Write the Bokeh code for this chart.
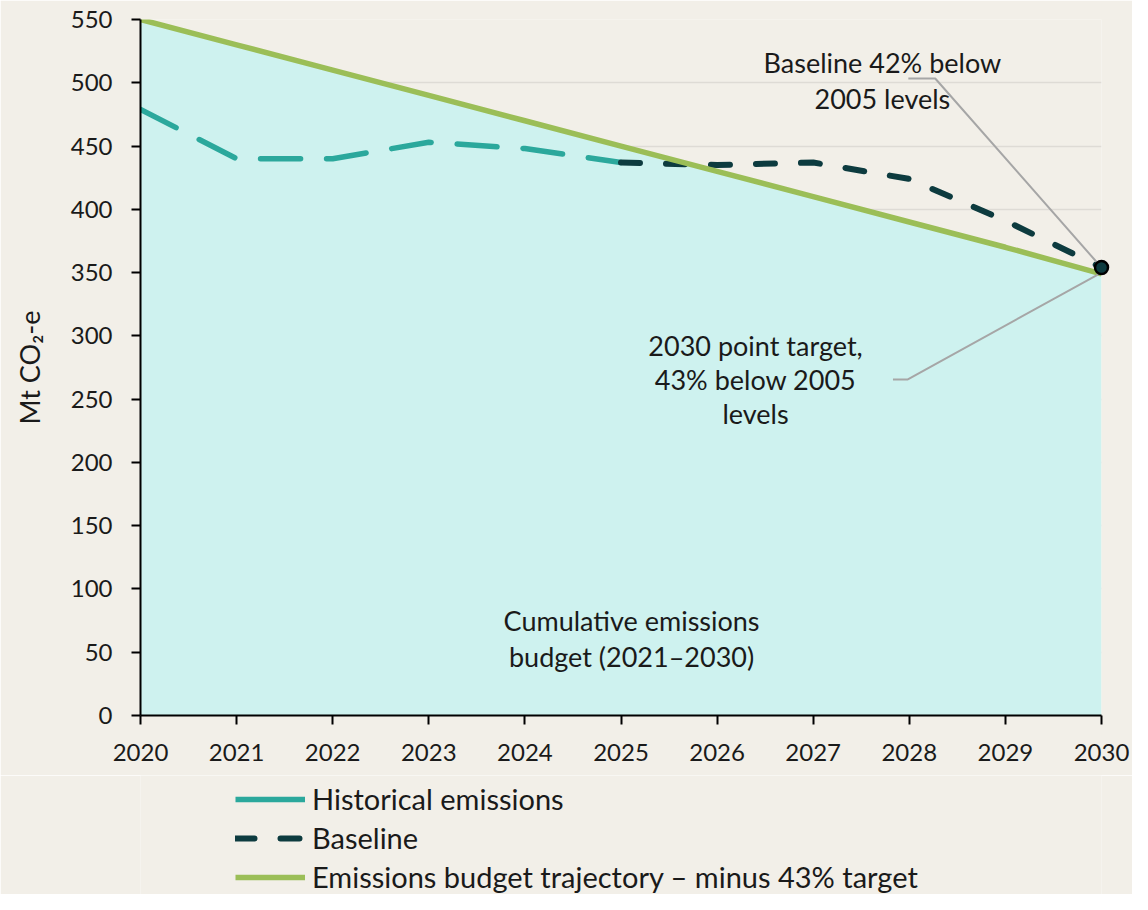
from bokeh.plotting import figure
from bokeh.models import ColumnDataSource, Legend, LegendItem, FixedTicker, Range1d
from bokeh.layouts import column
from bokeh.core.properties import value
from bokeh.embed import file_html
from bokeh.resources import INLINE

# ---- data ----
hist_years = [2020, 2021, 2022, 2023, 2024, 2025]
hist_values = [479, 440, 440, 453, 448, 437]

base_years = [2025, 2026, 2027, 2028, 2029, 2030]
base_values = [437, 435, 437, 424, 391, 354]

budget_years = [2020, 2021, 2022, 2023, 2024, 2025, 2026, 2027, 2028, 2029, 2030]
budget_values = [550, 530, 510, 490, 470, 450, 430, 410, 390, 370, 349]

target_year = [2030]
target_value = [354]

y_ticks = list(range(0, 551, 50))
x_ticks = list(range(2020, 2031))

legend_labels = ["Historical emissions", "Baseline",
                 "Emissions budget trajectory \u2013 minus 43% target"]

# annotation text (lines) and anchor positions in data units
ann_base_lines = ["Baseline 42% below", "2005 levels"]
ann_base_x = [2027.72, 2027.72]
ann_base_y = [516, 487.6]
ann_target_lines = ["2030 point target,", "43% below 2005", "levels"]
ann_target_x = [2026.4, 2026.4, 2026.4]
ann_target_y = [292.4, 265.5, 238.6]
ann_budget_lines = ["Cumulative emissions", "budget (2021\u20132030)"]
ann_budget_x = [2025.11, 2025.11]
ann_budget_y = [75, 46.6]

leader_base_x = [2027.99, 2028.27, 2030]
leader_base_y = [503.4, 503.4, 354]
leader_target_x = [2027.83, 2027.98, 2030]
leader_target_y = [265.5, 265.5, 350]

# ---- style ----
BG = "#F2EFE8"
FILL = "#CEF2EF"
TEAL = "#2BA89C"
DARK = "#0D3B3F"
GREEN = "#9BBE57"
GRID = "#DEDBD5"
FONT = "Lato"
TXT = "#1a1a1a"

p = figure(width=1132, height=775, output_backend="svg", toolbar_location=None,
           x_range=Range1d(2020, 2030), y_range=Range1d(0, 550),
           min_border_left=140, min_border_top=19, min_border_right=31,
           min_border_bottom=60)
p.background_fill_color = BG
p.border_fill_color = BG
p.outline_line_color = None

p.xgrid.grid_line_color = None
p.ygrid.grid_line_color = GRID
p.ygrid.grid_line_width = 1.5

for ax in (p.xaxis[0], p.yaxis[0]):
    ax.axis_line_color = "black"
    ax.axis_line_width = 2
    ax.major_tick_line_color = "black"
    ax.major_tick_line_width = 2
    ax.major_tick_out = 9
    ax.major_tick_in = 0
    ax.minor_tick_line_color = None
    ax.major_label_text_font = FONT
    ax.major_label_text_font_size = "24px"
    ax.major_label_text_color = TXT
    ax.major_label_standoff = 19

p.xaxis.ticker = FixedTicker(ticks=x_ticks)
p.yaxis.ticker = FixedTicker(ticks=y_ticks)
p.xaxis.major_label_overrides = {t: str(t) for t in x_ticks}
p.yaxis.axis_label = "Mt CO\u2082-e"
p.yaxis.axis_label_text_font = FONT
p.yaxis.axis_label_text_font_size = "27px"
p.yaxis.axis_label_text_font_style = "normal"
p.yaxis.axis_label_text_color = TXT
p.yaxis.axis_label_standoff = 22

# area under budget trajectory
p.varea(x=budget_years, y1=[0] * len(budget_years), y2=budget_values, fill_color=FILL)

# lines
p.line(hist_years, hist_values, line_color=TEAL, line_width=5.5,
       line_dash="40 26", line_cap="round")
p.line(base_years, base_values, line_color=DARK, line_width=6,
       line_dash="19 26", line_cap="round")
p.line(budget_years, budget_values, line_color=GREEN, line_width=5.5)

# leader lines
p.line(leader_base_x, leader_base_y, line_color="#A6A6A6", line_width=2)
p.line(leader_target_x, leader_target_y, line_color="#A6A6A6", line_width=2)

# target point
p.scatter(target_year, target_value, size=13, fill_color=DARK, line_color="black",
          line_width=2.5, level="overlay")

# annotations
for xs, ys, lines in ((ann_base_x, ann_base_y, ann_base_lines),
                      (ann_target_x, ann_target_y, ann_target_lines),
                      (ann_budget_x, ann_budget_y, ann_budget_lines)):
    src = ColumnDataSource(dict(x=xs, y=ys, t=lines))
    p.text(x="x", y="y", text="t", source=src, text_font=value(FONT),
           text_font_size="27px", text_color=TXT, text_align="center",
           text_baseline="middle")

# ---- legend strip below ----
lg = figure(width=1132, height=119, output_backend="svg", toolbar_location=None,
            x_range=Range1d(0, 1), y_range=Range1d(0, 1),
            min_border_left=0, min_border_right=0, min_border_top=0, min_border_bottom=0)
lg.axis.visible = False
lg.grid.grid_line_color = None
lg.background_fill_color = BG
lg.border_fill_color = BG
lg.outline_line_color = None

nan = [float("nan")]
r_hist = lg.line(nan, nan, line_color=TEAL, line_width=5.5)
r_base = lg.line(nan, nan, line_color=DARK, line_width=6, line_dash="19 26", line_cap="round")
r_budget = lg.line(nan, nan, line_color=GREEN, line_width=5.5)

legend = Legend(items=[
    LegendItem(label=legend_labels[0], renderers=[r_hist]),
    LegendItem(label=legend_labels[1], renderers=[r_base]),
    LegendItem(label=legend_labels[2], renderers=[r_budget]),
], location=(95, 0))
legend.background_fill_alpha = 0
legend.border_line_color = None
legend.label_text_font = FONT
legend.label_text_font_size = "29px"
legend.label_text_color = TXT
legend.glyph_width = 70
legend.glyph_height = 28
legend.label_height = 28
legend.spacing = 4
legend.padding = 0
legend.margin = 0
legend.label_standoff = 7
lg.add_layout(legend, "center")

layout = column(p, lg, spacing=0)
open("out.html", "w").write(file_html(layout, INLINE))
